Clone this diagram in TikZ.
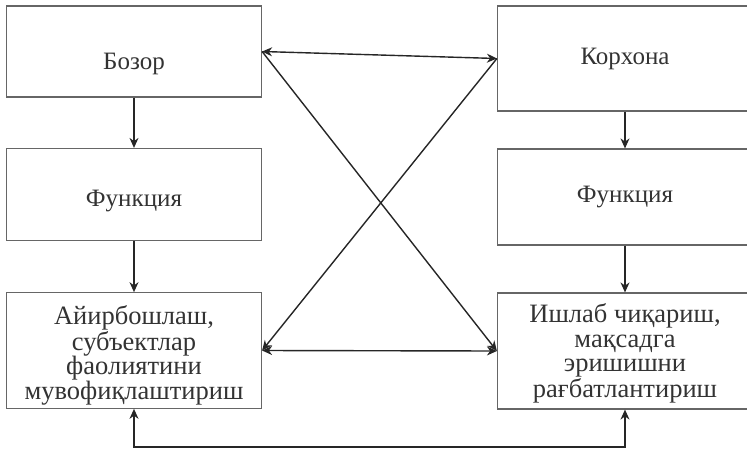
\documentclass[tikz,border=0pt]{standalone}
\usepackage{fontspec}
\setmainfont{Liberation Serif}
\usepackage{tikz}
\usetikzlibrary{arrows.meta}

\begin{document}
\begin{tikzpicture}[x=1pt,y=-1pt]
			\tikzstyle{boxs} = [draw=black!60, line width=1.2pt, text=black!80,
				minimum width=255pt, align=center,
				font=\fontsize{25}{24.5}\selectfont]
			\tikzstyle{boxsL} = [boxs, font=\fontsize{26.5}{24.5}\selectfont]
			\tikzstyle{line} = [draw,-{Stealth[length=10pt,width=9pt]},line width=1.4pt,black!85]
			\tikzstyle{lineB} = [draw,{Stealth[length=10pt,width=9pt]}-{Stealth[length=10pt,width=9pt]},line width=1.4pt,black!85]

			\useasboundingbox (0,0) rectangle (747,450);

			% left column
			\node(Bozor)[boxs,minimum height=91pt,text height=36pt,text depth=0pt] at (134,51.5){Бозор};
			\node(BozorFunc)[boxs,minimum height=92pt,text height=28pt,text depth=5pt] at (134,194.5){Функция};
			\node(Ayirbosh)[boxsL,minimum height=115pt] at (134,350.5){\rule{0pt}{28.5pt}Айирбошлаш,\\субъектлар\\фаолиятини\\мувофиқлаштириш};

			% right column
			\node(Korxona)[boxs,minimum height=105pt] at (625,58.5){Корхона};
			\node(KorxonaFunc)[boxs,minimum height=96pt] at (625,197){Функция};
			\node(Ishlab)[boxsL,minimum height=116pt] at (625,351){\rule{0pt}{23.5pt}Ишлаб чиқариш,\\мақсадга\\эришишни\\рағбатлантириш};

			\path[line] (Bozor.south) -- (BozorFunc.north);
			\path[line] (BozorFunc.south) -- (Ayirbosh.north);
			\path[line] (Korxona.south) -- (KorxonaFunc.north);
			\path[line] (KorxonaFunc.south) -- (Ishlab.north);

			\path[lineB] (Bozor.east) -- (Korxona.west);
			\path[line] (Bozor.east) -- (Ishlab.west);
			\path[line] (Korxona.west) -- (Ayirbosh.east);
			\path[lineB] (Ayirbosh.east) -- (Ishlab.west);

			\coordinate(botL) at (Ayirbosh.south |- 0,447);
			\path[lineB] (Ayirbosh.south) -- (botL) -| (Ishlab.south);

		\end{tikzpicture}
\end{document}
